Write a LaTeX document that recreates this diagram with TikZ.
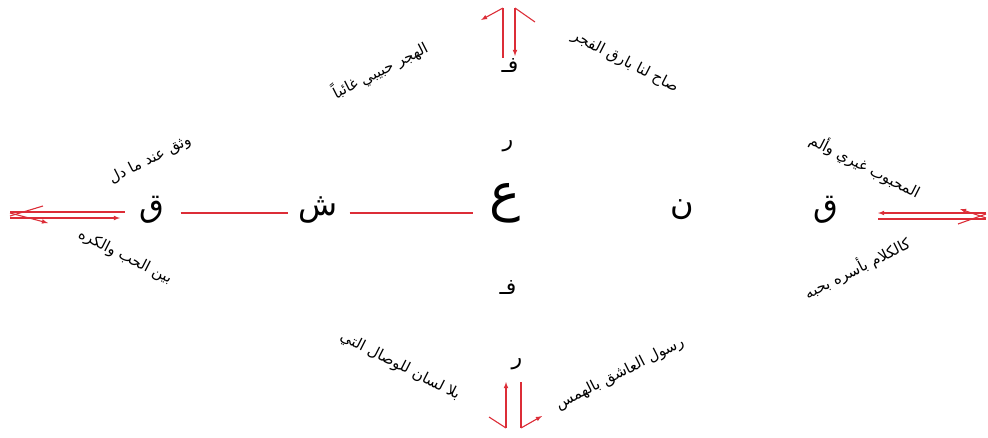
\documentclass[tikz,border=0pt]{standalone}
\usepackage{fontspec}
\newfontfamily\arabicfont[Script=Arabic]{DejaVu Sans}
\TeXXeTstate=1
\definecolor{linered}{RGB}{220,45,55}
\tikzset{
  redline/.style={draw=linered, line width=1.1pt},
  bigletter/.style={font=\arabicfont\fontsize{52}{54}\selectfont, inner sep=4pt},
  midletter/.style={font=\arabicfont\fontsize{32}{34}\selectfont, inner sep=4pt},
  smallletter/.style={font=\arabicfont\fontsize{22}{24}\selectfont, inner sep=1pt},
  verse/.style={font=\arabicfont\fontsize{15}{17}\selectfont, inner sep=1pt}
}
\begin{document}
\begin{tikzpicture}[x=1pt, y=-1pt, >=latex]
    \useasboundingbox (0,0) rectangle (988,437);

    % Letters
    \node[bigletter] (ain) at (505,203) {\beginR ع\endR};
    \node[midletter] (shin) at (318,210) {\beginR ش\endR};
    \node[midletter] (qafL) at (152,210) {\beginR ق\endR};
    \node[midletter] (nun) at (682,210) {\beginR ن\endR};
    \node[midletter] (qafR) at (826,210) {\beginR ق\endR};
    \node[smallletter] (faT) at (510,66) {\beginR فـ\endR};
    \node[smallletter] (raT) at (508,146) {\beginR ر\endR};
    \node[smallletter] (faB) at (508,288) {\beginR فـ\endR};
    \node[smallletter] (raB) at (517,364) {\beginR ر\endR};

    % Connectors
    \coordinate (lineY) at (0,213);
    \draw[redline, shorten <=12pt, shorten >=6pt] (qafL.east |- lineY) -- (shin.west |- lineY);
    \draw[redline, shorten <=8pt, shorten >=12pt] (shin.east |- lineY) -- (ain.west |- lineY);

    % Left end
    \coordinate (tipL) at (10,215);
    \draw[redline, ->] ([yshift=-3pt]tipL) -- ++(110,0);
    \draw[redline] ([yshift=3pt]tipL) -- ++(115,0);
    \draw[redline] ([yshift=-1pt]tipL) -- ++(33,-10);
    \draw[redline, ->] ([yshift=2pt]tipL) -- ++(38,10);

    % Right end
    \coordinate (tipR) at (986,216);
    \draw[redline] ([yshift=-3pt]tipR) -- ++(-108,0);
    \draw[redline, ->] ([yshift=3pt]tipR) -- ++(-108,0);
    \draw[redline, ->] ([yshift=-2pt]tipR) -- ++(-26,-9);
    \draw[redline] ([yshift=2pt]tipR) -- ++(-28,10);

    % Top end
    \coordinate (tipT) at (509,8);
    \draw[redline] ([xshift=-6pt]tipT) -- ++(0,50);
    \draw[redline, ->] ([xshift=6pt]tipT) -- ++(0,48);
    \draw[redline, ->] ([xshift=-6pt]tipT) -- ++(-22,12);
    \draw[redline] ([xshift=6pt]tipT) -- ++(20,14);

    % Bottom end
    \coordinate (tipB) at (513,428);
    \draw[redline, ->] ([xshift=-7pt]tipB) -- ++(0,-46);
    \draw[redline] ([xshift=8pt]tipB) -- ++(0,-46);
    \draw[redline] ([xshift=-7pt]tipB) -- ++(-17,-11);
    \draw[redline, ->] ([xshift=8pt]tipB) -- ++(21,-12);

    % Verses
    \node[verse, rotate=27] (vTL) at (380,70) {\beginR الهجر حبيبي غائباً\endR};
    \node[verse, rotate=-27] (vTR) at (625,62) {\beginR صاح لنا بارق الفجر\endR};
    \node[verse, rotate=27] (vLT) at (150,160) {\beginR وثق عند ما دل\endR};
    \node[verse, rotate=-27] (vLB) at (125,257) {\beginR بين الحب والكره\endR};
    \node[verse, rotate=-27] (vRT) at (865,166) {\beginR المحبوب غيري وألم\endR};
    \node[verse, rotate=27] (vRB) at (857,268) {\beginR كالكلام بأسره بحبه\endR};
    \node[verse, rotate=-27] (vBL) at (400,366) {\beginR بلا لسان للوصال التي\endR};
    \node[verse, rotate=27] (vBR) at (620,374) {\beginR رسول العاشق بالهمس\endR};
\end{tikzpicture}
\end{document}
